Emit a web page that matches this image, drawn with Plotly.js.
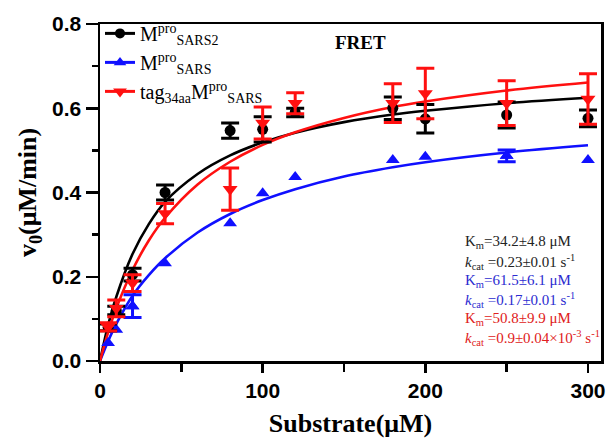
<!DOCTYPE html>
<html>
<head>
<meta charset="utf-8">
<script src="https://cdn.plot.ly/plotly-3.0.1.min.js"></script>
<style>html,body{margin:0;padding:0;background:#fff;}#chart{width:608px;height:441px;}</style>
</head>
<body>
<div id="chart"></div>
<script>
// Measured substrate concentrations (µM)
const substrate = [5, 10, 20, 40, 80, 100, 120, 180, 200, 250, 300];

// Mpro SARS2 (black)
const sars2V   = [0.080, 0.120, 0.205, 0.400, 0.547, 0.550, 0.590, 0.600, 0.575, 0.584, 0.576];
const sars2Err = [0.008, 0.010, 0.015, 0.018, 0.018, 0.030, 0.010, 0.027, 0.034, 0.031, 0.020];

// Mpro SARS (blue) – only two points carry visible error bars
const sarsV    = [0.043, 0.074, 0.130, 0.232, 0.327, 0.398, 0.437, 0.477, 0.485, 0.487, 0.477];
const sarsErr  = [null, null, 0.027, null, null, null, null, null, null, 0.014, null];

// tag34aa Mpro SARS (red)
const tagV     = [0.081, 0.125, 0.185, 0.350, 0.408, 0.565, 0.612, 0.612, 0.635, 0.612, 0.622];
const tagErr   = [0.010, 0.020, 0.020, 0.024, 0.050, 0.038, 0.025, 0.046, 0.060, 0.053, 0.060];

// Fitted curves
const fitS     = [0, 5, 10, 20, 30, 40, 60, 80, 100, 120, 150, 180, 200, 250, 300];
const fitSars2 = [0, 0.085, 0.152, 0.254, 0.325, 0.378, 0.444, 0.488, 0.519, 0.542, 0.567, 0.585, 0.594, 0.612, 0.625];
const fitSars  = [0, 0.047, 0.088, 0.155, 0.204, 0.244, 0.305, 0.349, 0.382, 0.408, 0.438, 0.460, 0.472, 0.495, 0.512];
const fitTag   = [0, 0.068, 0.125, 0.216, 0.286, 0.340, 0.419, 0.473, 0.513, 0.543, 0.577, 0.603, 0.616, 0.642, 0.661];

const legendNames = [
  'M<sup>pro</sup><sub>SARS2</sub>',
  'M<sup>pro</sup><sub>SARS</sub>',
  'tag<sub>34aa</sub>M<sup>pro</sup><sub>SARS</sub>'
];

const black = '#000000', blue = '#1010ff', red = '#ff1010';

const serif = 'Liberation Serif, Times New Roman, serif';
const sans = 'Liberation Sans, Arial, sans-serif';

function pts(x, y, err, color, symbol, size) {
  const t = {
    x: x, y: y, mode: 'markers', type: 'scatter', showlegend: false,
    marker: {color: color, symbol: symbol, size: size}
  };
  if (err) t.error_y = {type: 'data', array: err, visible: true, color: color, thickness: 3, width: 9};
  return t;
}
function fit(y, color) {
  return {x: fitS, y: y, mode: 'lines', type: 'scatter', showlegend: false,
          line: {color: color, width: 2.6, shape: 'spline', smoothing: 1}};
}
function leg(name, color, symbol, size) {
  return {x: [null], y: [null], mode: 'lines+markers', type: 'scatter', name: name,
          line: {color: color, width: 3}, marker: {color: color, symbol: symbol, size: size}};
}

// blue points that carry an error bar
const blueIdx = sarsErr.map((e, i) => e === null ? -1 : i).filter(i => i >= 0);
const blueErrX = blueIdx.map(i => substrate[i]);
const blueErrY = blueIdx.map(i => sarsV[i]);
const blueErrE = blueIdx.map(i => sarsErr[i]);

const data = [
  fit(fitSars, blue), fit(fitSars2, black), fit(fitTag, red),
  pts(substrate, sarsV, null, blue, 'triangle-up', 12),
  pts(blueErrX, blueErrY, blueErrE, blue, 'triangle-up', 12),
  pts(substrate, sars2V, sars2Err, black, 'circle', 11),
  pts(substrate, tagV, tagErr, red, 'triangle-down', 13),
  leg(legendNames[0], black, 'circle', 10),
  leg(legendNames[1], blue, 'triangle-up', 11),
  leg(legendNames[2], red, 'triangle-down', 12)
];

const kinText = [
  ['K<sub>m</sub>=34.2±4.8 μM', '#222222'],
  ['<i>k</i><sub>cat</sub> =0.23±0.01 s<sup>-1</sup>', '#222222'],
  ['K<sub>m</sub>=61.5±6.1 μM', '#2b2bd0'],
  ['<i>k</i><sub>cat</sub> =0.17±0.01 s<sup>-1</sup>', '#2b2bd0'],
  ['K<sub>m</sub>=50.8±9.9 μM', '#e02020'],
  ['<i>k</i><sub>cat</sub> =0.9±0.04×10<sup>-3</sup> s<sup>-1</sup>', '#e02020']
];
const kinY = [0.354, 0.295, 0.237, 0.181, 0.125, 0.068];

const annotations = kinText.map((t, i) => ({
  xref: 'paper', yref: 'paper', x: 0.7246, y: kinY[i], xanchor: 'left', yanchor: 'middle',
  text: t[0], showarrow: false, font: {family: serif, size: 15, color: t[1]}
}));
annotations.push({
  xref: 'paper', yref: 'paper', x: 0.519, y: 0.944, xanchor: 'center', yanchor: 'middle',
  text: 'FRET', showarrow: false, font: {family: serif, size: 19, color: '#000', weight: 'bold'}
});

const layout = {
  width: 608, height: 441,
  margin: {l: 100, r: 7, t: 24, b: 80},
  paper_bgcolor: '#fff', plot_bgcolor: '#fff',
  showlegend: true,
  legend: {x: 0, xanchor: 'left', y: 1.03, yanchor: 'top', bgcolor: 'rgba(0,0,0,0)',
           font: {family: serif, size: 20, color: '#000'}, tracegroupgap: 0},
  xaxis: {
    range: [0, 308], showgrid: false, zeroline: false,
    showline: true, linecolor: '#000', linewidth: 2.5, mirror: true,
    ticks: 'outside', ticklen: 9, tickwidth: 2.5, tickcolor: '#000',
    tickvals: [0, 100, 200, 300], ticktext: ['0', '100', '200', '300'],
    minor: {tickvals: [50, 150, 250], ticks: 'outside', ticklen: 8, tickwidth: 2.5, tickcolor: '#000'},
    tickfont: {family: sans, size: 21, color: '#000', weight: 'bold'},
    title: {text: 'Substrate(μM)', standoff: 13, font: {family: serif, size: 26, color: '#000', weight: 'bold'}}
  },
  yaxis: {
    range: [0, 0.8], showgrid: false, zeroline: false,
    showline: true, linecolor: '#000', linewidth: 2.5, mirror: true,
    ticks: 'outside', ticklen: 12, tickwidth: 2.5, tickcolor: '#000',
    tickvals: [0, 0.2, 0.4, 0.6, 0.8], ticktext: ['0.0', '0.2', '0.4', '0.6', '0.8'],
    minor: {tickvals: [0.1, 0.3, 0.5, 0.7], ticks: 'outside', ticklen: 6, tickwidth: 2.5, tickcolor: '#000'},
    tickfont: {family: sans, size: 21, color: '#000', weight: 'bold'},
    title: {text: 'v<sub>0</sub>(μM/min)', standoff: 8, font: {family: serif, size: 26, color: '#000', weight: 'bold'}}
  },
  annotations: annotations
};

Plotly.newPlot('chart', data, layout, {displayModeBar: false, staticPlot: true});
</script>
</body>
</html>
